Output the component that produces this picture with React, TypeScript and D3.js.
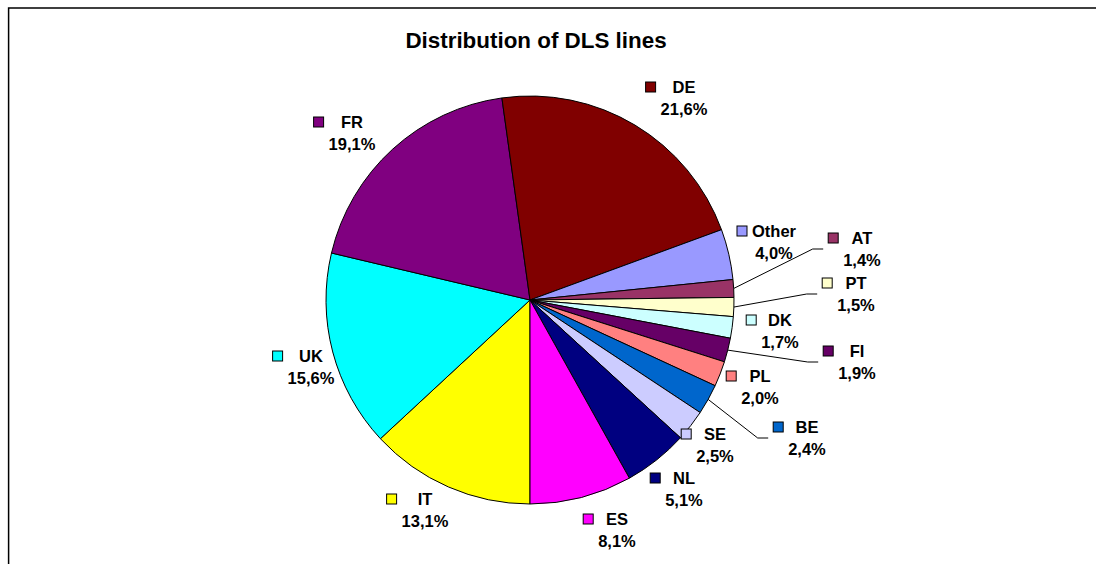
import React, { useRef, useEffect } from "react";
import * as d3 from "d3";

// slice order as in the sheet, first slice starts at 6 o'clock
const categories = ["IT", "UK", "FR", "DE", "Other", "AT", "PT", "DK", "FI", "PL", "BE", "SE", "NL", "ES"];
const shares = [13.1, 15.6, 19.1, 21.6, 4.0, 1.4, 1.5, 1.7, 1.9, 2.0, 2.4, 2.5, 5.1, 8.1];
const colors = [
    "#FFFF00", "#00FFFF", "#800080", "#800000", "#9999FF", "#993366", "#FFFFCC",
    "#CCFFFF", "#660066", "#FF8080", "#0066CC", "#CCCCFF", "#000080", "#FF00FF",
];

// label centre x / first-line baseline, placed by hand like the original
const labelPos: Record<string, [number, number]> = {
    IT: [425, 505],
    UK: [311, 362],
    FR: [352, 128],
    DE: [684, 93],
    Other: [774, 237],
    AT: [862, 244],
    PT: [856, 289],
    DK: [780, 326],
    FI: [857, 357],
    PL: [760, 382],
    BE: [807, 433],
    SE: [715, 440],
    NL: [684, 484],
    ES: [617, 525],
};
const withLeader = ["AT", "PT", "FI", "BE"];

const FONT = "Arial, 'Liberation Sans', sans-serif";

export const PieChart = () => {
    const svgRef = useRef<SVGSVGElement>(null);

    useEffect(() => {
        if (!svgRef.current) return;
        const svg = d3.select(svgRef.current);
        svg.selectAll("*").remove();

        const cx = 530;
        const cy = 300;
        const r = 204;

        // frame
        svg.append("rect")
            .attr("x", 8.6)
            .attr("y", 8)
            .attr("width", 2000)
            .attr("height", 2000)
            .attr("fill", "white")
            .attr("stroke", "black")
            .attr("stroke-width", 1.5);

        svg.append("text")
            .attr("x", 536)
            .attr("y", 48)
            .attr("text-anchor", "middle")
            .attr("font-family", FONT)
            .attr("font-weight", "bold")
            .attr("font-size", 22.4)
            .text("Distribution of DLS lines");

        const items = categories.map((c, i) => ({ name: c, value: shares[i], color: colors[i] }));

        const pie = d3
            .pie<{ name: string; value: number; color: string }>()
            .sort(null)
            .value((d) => d.value)
            .startAngle(Math.PI)
            .endAngle(3 * Math.PI);

        const arc = d3
            .arc<d3.PieArcDatum<{ name: string; value: number; color: string }>>()
            .innerRadius(0)
            .outerRadius(r);

        const arcs = pie(items);

        svg.append("g")
            .attr("transform", `translate(${cx},${cy})`)
            .selectAll("path")
            .data(arcs)
            .enter()
            .append("path")
            .attr("d", arc)
            .attr("fill", (d) => d.data.color)
            .attr("stroke", "black")
            .attr("stroke-width", 1);

        const fmt = (v: number) => d3.format(".1f")(v).replace(".", ",") + "%";

        const labels = svg.append("g")
            .attr("font-family", FONT)
            .attr("font-weight", "bold")
            .attr("font-size", 16.5);

        arcs.forEach((d) => {
            const [lx, ly] = labelPos[d.data.name];
            const g = labels.append("g");
            const t1 = g.append("text")
                .attr("x", lx)
                .attr("y", ly)
                .attr("text-anchor", "middle")
                .text(d.data.name);
            const t2 = g.append("text")
                .attr("x", lx)
                .attr("y", ly + 22)
                .attr("text-anchor", "middle")
                .text(fmt(d.data.value));
            const w = Math.max(
                (t1.node() as SVGTextElement).getComputedTextLength(),
                (t2.node() as SVGTextElement).getComputedTextLength()
            );
            const markerRight = lx - w / 2 - 5;
            g.append("rect")
                .attr("x", markerRight - 10)
                .attr("y", ly - 11)
                .attr("width", 10)
                .attr("height", 10)
                .attr("fill", d.data.color)
                .attr("stroke", "black")
                .attr("stroke-width", 1);

            if (withLeader.includes(d.data.name)) {
                const a = (d.startAngle + d.endAngle) / 2;
                const sx = cx + r * Math.sin(a);
                const sy = cy - r * Math.cos(a);
                const ex = markerRight - 15;
                const ey = ly + 5;
                svg.append("polyline")
                    .attr("points", `${sx},${sy} ${ex - 10.5},${ey} ${ex},${ey}`)
                    .attr("fill", "none")
                    .attr("stroke", "black")
                    .attr("stroke-width", 1);
            }
        });
    }, []);

    return (
        <svg
            ref={svgRef}
            width={1096}
            height={564}
            viewBox="0 0 1096 564"
            style={{ position: "absolute", left: 0, top: 0 }}
        />
    );
};

export default PieChart;
